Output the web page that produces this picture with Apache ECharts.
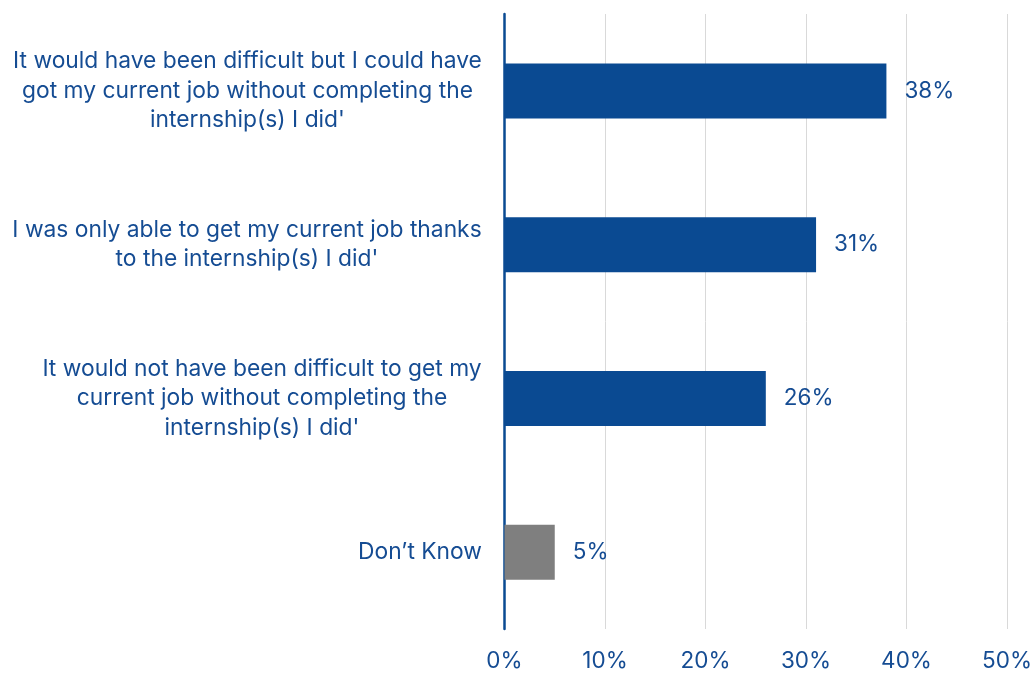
<!DOCTYPE html>
<html>
<head>
<meta charset="utf-8">
<script src="https://cdn.jsdelivr.net/npm/echarts@6/dist/echarts.min.js"></script>
<style>
  html, body { margin: 0; padding: 0; background: #ffffff; }
  #chart { width: 1035px; height: 673px; }
</style>
</head>
<body>
<div id="chart"></div>
<script>
// Survey answers, listed top to bottom
const categories = [
  "It would have been difficult but I could have\ngot my current job without completing the\ninternship(s) I did'",
  "I was only able to get my current job thanks\nto the internship(s) I did'",
  "It would not have been difficult to get my\ncurrent job without completing the\ninternship(s) I did'",
  "Don\u2019t Know"
];
const shares = [38, 31, 26, 5];
const barColors = ["#0a4a92", "#0a4a92", "#0a4a92", "#7f7f7f"];
const xTicks = [0, 10, 20, 30, 40, 50];

const textColor = "#154c93";
const fontFamily = "Inter, 'Noto Sans', sans-serif";
const fontSize = 22.5;
const labelFontSize = 22.8;

// Each category label is a right-anchored block whose lines are centred
// within the block, so the block width is the widest line of that label.
const measureCtx = document.createElement("canvas").getContext("2d");
measureCtx.font = labelFontSize + "px " + fontFamily;
const richStyles = {};
categories.forEach((c, i) => {
  const w = Math.max(...c.split("\n").map(l => measureCtx.measureText(l).width));
  richStyles["r" + i] = {
    width: Math.ceil(w) + 1, align: "center",
    color: textColor, fontSize: labelFontSize, lineHeight: 29.5, fontFamily: fontFamily
  };
});

const chart = echarts.init(document.getElementById("chart"), null, { renderer: "canvas" });
chart.setOption({
  animation: false,
  textStyle: { fontFamily: fontFamily },
  grid: { left: 504.5, right: 21.5, top: 14, bottom: 43, containLabel: false },
  xAxis: {
    type: "value",
    min: xTicks[0],
    max: xTicks[xTicks.length - 1],
    interval: 10,
    axisLine: { show: false },
    axisTick: { show: false },
    splitLine: { show: true, lineStyle: { color: "#d9d9d9", width: 1 } },
    axisLabel: {
      color: textColor, fontSize: fontSize, margin: 21, fontFamily: fontFamily,
      formatter: v => v + "%"
    }
  },
  yAxis: {
    type: "category",
    inverse: true,
    data: categories,
    axisLine: { show: true, lineStyle: { color: "#0a4a92", width: 2.5 } },
    axisTick: { show: false },
    axisLabel: {
      margin: 22, align: "right",
      color: textColor, fontSize: labelFontSize, lineHeight: 29.5, fontFamily: fontFamily,
      formatter: (value, index) =>
        value.split("\n").map(l => "{r" + index + "|" + l + "}").join("\n"),
      rich: richStyles
    }
  },
  series: [{
    type: "bar",
    barWidth: 55,
    data: shares.map((v, i) => ({ value: v, itemStyle: { color: barColors[i] } })),
    label: {
      show: true, position: "right", distance: 18,
      color: textColor, fontSize: fontSize, fontFamily: fontFamily,
      formatter: p => p.value + "%"
    }
  }]
});
</script>
</body>
</html>
